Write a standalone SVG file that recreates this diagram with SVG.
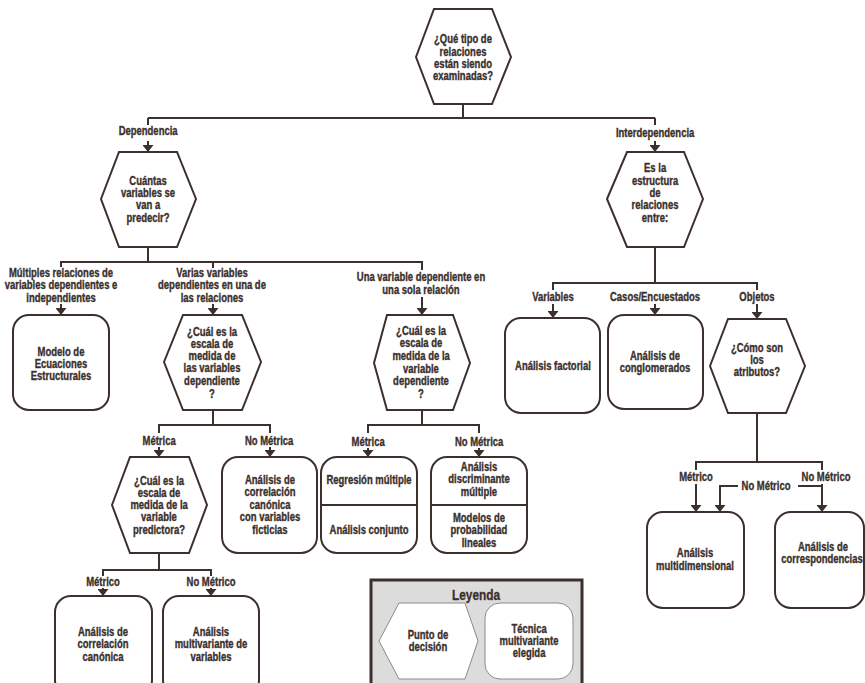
<svg xmlns="http://www.w3.org/2000/svg" width="865" height="683" viewBox="0 0 865 683">
<style>
.t{font-family:"Liberation Sans",Arial,sans-serif;font-weight:bold;font-size:12px;fill:#3b302c;stroke:#3b302c;stroke-width:0.35;text-anchor:middle;dominant-baseline:central;transform-box:fill-box;transform-origin:center;transform:scaleX(0.79)}
.n{fill:#fff;stroke:#3b302c;stroke-width:2}
.c{fill:none;stroke:#3b302c;stroke-width:2}
.a{marker-end:url(#arr)}
.lg{fill:#fff;stroke:#8a8a8a;stroke-width:1}
</style>
<defs>
<marker id="arr" viewBox="0 0 7 11" refX="7" refY="5.5" markerWidth="7" markerHeight="11" markerUnits="userSpaceOnUse" orient="auto">
<path d="M0,0 L7,5.5 L0,11 z" fill="#3b302c"/>
</marker>
</defs>
<rect width="865" height="683" fill="#fff"/>

<g id="connectors">
<path class="c" d="M463 104 V118 M148 118 H655"/>
<path class="c" d="M148 118 V125 M655 118 V125"/>
<path class="c a" d="M148 141 V152"/>
<path class="c a" d="M655 141 V152"/>
<path class="c" d="M148 247 V262 M61 267 V262 H422 V270 M213 262 V268"/>
<path class="c a" d="M61 304 V315"/>
<path class="c a" d="M213 304 V315"/>
<path class="c a" d="M422 297 V315"/>
<path class="c" d="M213 410 V425 M159 433 V425 H270 V433"/>
<path class="c a" d="M159 447 V457"/>
<path class="c a" d="M270 447 V457"/>
<path class="c" d="M422 410 V425 M368 433 V425 H479 V433"/>
<path class="c a" d="M368 448 V457"/>
<path class="c a" d="M479 448 V457"/>
<path class="c" d="M159 553 V570 M103 576 V570 H211 V576"/>
<path class="c a" d="M103 588 V596"/>
<path class="c a" d="M211 588 V596"/>
<path class="c" d="M655 247 V283 M553 290 V283 H757 V290"/>
<path class="c a" d="M553 304 V318"/>
<path class="c a" d="M655 304 V315"/>
<path class="c a" d="M757 304 V319"/>
<path class="c" d="M757 413 V462 M696 470 V462 H822 V470"/>
<path class="c a" d="M696 484 V512"/>
<path class="c a" d="M822 484 V512"/>
<path class="c" d="M798 486 H822"/>
<path class="c a" d="M738 486 H720 V512"/>
</g>

<g id="labels">
<text class="t" x="148" y="131">Dependencia</text>
<text class="t" x="655" y="133">Interdependencia</text>
<text class="t" x="61" y="273">Múltiples relaciones de</text>
<text class="t" x="61" y="285">variables dependientes e</text>
<text class="t" x="61" y="298">independientes</text>
<text class="t" x="212" y="273">Varias variables</text>
<text class="t" x="212" y="285">dependientes en una de</text>
<text class="t" x="212" y="298">las relaciones</text>
<text class="t" x="421" y="277">Una variable dependiente en</text>
<text class="t" x="421" y="290">una sola relación</text>
<text class="t" x="159" y="441">Métrica</text>
<text class="t" x="269" y="441">No Métrica</text>
<text class="t" x="368" y="442">Métrica</text>
<text class="t" x="479" y="442">No Métrica</text>
<text class="t" x="103" y="582">Métrico</text>
<text class="t" x="211" y="582">No Métrico</text>
<text class="t" x="553" y="297">Variables</text>
<text class="t" x="655" y="297">Casos/Encuestados</text>
<text class="t" x="757" y="297">Objetos</text>
<text class="t" x="696" y="477">Métrico</text>
<text class="t" x="826" y="477">No Métrico</text>
<text class="t" x="766" y="486">No Métrico</text>
</g>

<g id="q-tipo">
<polygon class="n" points="416,57 434,9 492,9 511,57 492,104 434,104"/>
<text class="t" x="463" y="39">¿Qué tipo de</text>
<text class="t" x="463" y="52">relaciones</text>
<text class="t" x="463" y="64">están siendo</text>
<text class="t" x="463" y="76">examinadas?</text>
</g>

<g id="q-cuantas">
<polygon class="n" points="101,199 119,152 177,152 196,199 177,247 119,247"/>
<text class="t" x="148" y="181">Cuántas</text>
<text class="t" x="148" y="193">variables se</text>
<text class="t" x="148" y="205">van a</text>
<text class="t" x="148" y="218">predecir?</text>
</g>

<g id="modelo-ecuaciones">
<rect class="n" x="13" y="315" width="96" height="95" rx="16"/>
<text class="t" x="61" y="352">Modelo de</text>
<text class="t" x="61" y="364">Ecuaciones</text>
<text class="t" x="61" y="376">Estructurales</text>
</g>

<g id="q-escala-varias">
<polygon class="n" points="164,362 183,315 242,315 261,362 242,410 183,410"/>
<text class="t" x="212" y="332">¿Cuál es la</text>
<text class="t" x="212" y="344">escala de</text>
<text class="t" x="212" y="356">medida de</text>
<text class="t" x="212" y="368">las variables</text>
<text class="t" x="212" y="381">dependiente</text>
<text class="t" x="212" y="394">?</text>
</g>

<g id="q-escala-una">
<polygon class="n" points="374,363 387,315 453,315 470,363 453,410 387,410"/>
<text class="t" x="421" y="331">¿Cuál es la</text>
<text class="t" x="421" y="343">escala de</text>
<text class="t" x="421" y="356">medida de la</text>
<text class="t" x="421" y="369">variable</text>
<text class="t" x="421" y="381">dependiente</text>
<text class="t" x="421" y="394">?</text>
</g>

<g id="q-predictora">
<polygon class="n" points="112,505 130,457 189,457 207,505 189,553 130,553"/>
<text class="t" x="159" y="481">¿Cuál es la</text>
<text class="t" x="159" y="493">escala de</text>
<text class="t" x="159" y="505">medida de la</text>
<text class="t" x="159" y="517">variable</text>
<text class="t" x="159" y="530">predictora?</text>
</g>

<g id="corr-canonica-ficticias">
<rect class="n" x="222" y="457" width="95" height="96" rx="16"/>
<text class="t" x="270" y="480">Análisis de</text>
<text class="t" x="270" y="492">correlación</text>
<text class="t" x="270" y="505">canónica</text>
<text class="t" x="270" y="517">con variables</text>
<text class="t" x="270" y="530">ficticias</text>
</g>

<g id="regresion">
<rect class="n" x="321" y="457" width="96" height="96" rx="16"/>
<path class="c" d="M321 505 H417"/>
<text class="t" x="369" y="480">Regresión múltiple</text>
<text class="t" x="369" y="530">Análisis conjunto</text>
</g>

<g id="discriminante">
<rect class="n" x="431" y="457" width="96" height="96" rx="16"/>
<path class="c" d="M431 505 H527"/>
<text class="t" x="479" y="467">Análisis</text>
<text class="t" x="479" y="479">discriminante</text>
<text class="t" x="479" y="492">múltiple</text>
<text class="t" x="479" y="518">Modelos de</text>
<text class="t" x="479" y="530">probabilidad</text>
<text class="t" x="479" y="543">lineales</text>
</g>

<g id="corr-canonica">
<rect class="n" x="55" y="596" width="97" height="100" rx="16"/>
<text class="t" x="103" y="632">Análisis de</text>
<text class="t" x="103" y="644">correlación</text>
<text class="t" x="103" y="657">canónica</text>
</g>

<g id="multivariante-varianza">
<rect class="n" x="163" y="596" width="96" height="100" rx="16"/>
<text class="t" x="211" y="632">Análisis</text>
<text class="t" x="211" y="644">multivariante de</text>
<text class="t" x="211" y="657">variables</text>
</g>

<g id="q-estructura">
<polygon class="n" points="607,199 627,152 684,152 703,199 684,247 627,247"/>
<text class="t" x="655" y="168">Es la</text>
<text class="t" x="655" y="181">estructura</text>
<text class="t" x="655" y="193">de</text>
<text class="t" x="655" y="205">relaciones</text>
<text class="t" x="655" y="218">entre:</text>
</g>

<g id="factorial">
<rect class="n" x="505" y="318" width="95" height="95" rx="16"/>
<text class="t" x="553" y="366">Análisis factorial</text>
</g>

<g id="conglomerados">
<rect class="n" x="608" y="315" width="95" height="94" rx="16"/>
<text class="t" x="655" y="356">Análisis  de</text>
<text class="t" x="655" y="368">conglomerados</text>
</g>

<g id="q-atributos">
<polygon class="n" points="710,366 728,319 786,319 805,366 786,413 728,413"/>
<text class="t" x="757" y="348">¿Cómo son</text>
<text class="t" x="757" y="360">los</text>
<text class="t" x="757" y="372">atributos?</text>
</g>

<g id="multidimensional">
<rect class="n" x="647" y="512" width="97" height="96" rx="16"/>
<text class="t" x="695" y="553">Análisis</text>
<text class="t" x="695" y="566">multidimensional</text>
</g>

<g id="correspondencias">
<rect class="n" x="775" y="512" width="89" height="96" rx="16"/>
<text class="t" x="823" y="547">Análisis  de</text>
<text class="t" x="822" y="559">correspondencias</text>
</g>

<g id="leyenda">
<rect x="371" y="580" width="211" height="110" fill="#dcdcdc" stroke="#3b302c" stroke-width="3"/>
<text class="t" x="476" y="595" style="font-size:15px">Leyenda</text>
<polygon class="lg" points="379,641 399,603 465,603 478,641 465,679 399,679"/>
<text class="t" x="428" y="635">Punto de</text>
<text class="t" x="428" y="647">decisión</text>
<rect class="lg" x="485" y="603" width="88" height="76" rx="15"/>
<text class="t" x="529" y="629">Técnica</text>
<text class="t" x="529" y="641">multivariante</text>
<text class="t" x="529" y="653">elegida</text>
</g>
</svg>
